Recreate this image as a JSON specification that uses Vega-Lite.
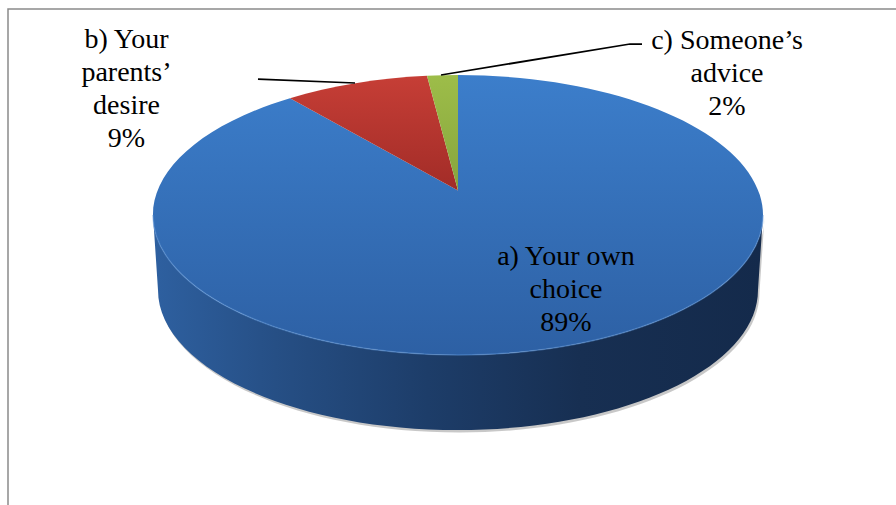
{
  "$schema": "https://vega.github.io/schema/vega-lite/v6.json",
  "width": 896,
  "height": 505,
  "autosize": "none",
  "padding": 0,
  "background": "white",
  "config": {"view": {"stroke": null}, "text": {"font": "Liberation Serif, Times New Roman, DejaVu Serif, serif"}},
  "data": {
    "values": [
      {"key": "a", "category": "a) Your own choice", "value": 89, "label": "a) Your own\nchoice\n89%"},
      {"key": "b", "category": "b) Your parents’ desire", "value": 9, "label": "b) Your\nparents’\ndesire\n9%"},
      {"key": "c", "category": "c) Someone’s advice", "value": 2, "label": "c) Someone’s\nadvice\n2%"}
    ]
  },
  "layer": [
    {
      "transform": [{"filter": "datum.key === 'a'"}],
      "mark": {"type": "point", "shape": "M -4.4 2.6 L -4.4 -2.435 L 4.6 -2.435", "size": 40000, "filled": false, "stroke": "#8a8a8a", "strokeWidth": 1.5, "opacity": 1},
      "encoding": {}
    },
    {
      "transform": [{"filter": "datum.key === 'a'"}],
      "mark": {"type": "point", "shape": "M -2.95 -0.375 L -2.9 0.375 A 3 1.4 0 0 0 3.1 0.375 L 3.15 -0.375 A 3.05 1.4 0 0 1 -2.95 -0.375 Z", "size": 40000, "filled": true, "fill": "#9a9a9a", "strokeWidth": 0, "opacity": 0.55, "xOffset": 1.5, "yOffset": 2.5},
      "encoding": {}
    },
    {
      "transform": [{"filter": "datum.key === 'a'"}],
      "mark": {"type": "point", "shape": "M -2.95 -0.375 L -2.9 0.375 A 3 1.4 0 0 0 3.1 0.375 L 3.15 -0.375 A 3.05 1.4 0 0 1 -2.95 -0.375 Z", "size": 40000, "filled": true, "strokeWidth": 0, "opacity": 1,
        "fill": {"gradient": "linear", "x1": 0, "y1": 0, "x2": 1, "y2": 0, "stops": [
          {"offset": 0, "color": "#2e60a0"},
          {"offset": 0.2, "color": "#264f85"},
          {"offset": 0.45, "color": "#1d3d69"},
          {"offset": 0.7, "color": "#172f52"},
          {"offset": 1, "color": "#142a4b"}
        ]}},
      "encoding": {}
    },
    {
      "transform": [{"filter": "datum.key === 'a'"}],
      "mark": {"type": "point", "size": 40000, "filled": true, "strokeWidth": 0, "opacity": 1,
        "fill": {"gradient": "linear", "x1": 0, "y1": 0, "x2": 0, "y2": 1, "stops": [
          {"offset": 0, "color": "#3c7ecb"},
          {"offset": 1, "color": "#2d60a4"}
        ]}},
      "encoding": {
        "shape": {"field": "key", "type": "nominal", "legend": null, "scale": {"domain": ["a", "b", "c"], "range": [
          "M 0.1 -0.62 L 0.1 -1.775 A 3.05 1.4 0 1 1 -1.58 -1.5435 Z",
          "M 0.1 -0.62 L -1.58 -1.5435 A 3.05 1.4 0 0 1 -0.21 -1.7678 Z",
          "M 0.1 -0.62 L -0.21 -1.7678 A 3.05 1.4 0 0 1 0.1 -1.775 Z"
        ]}}
      }
    },
    {
      "transform": [{"filter": "datum.key === 'b'"}],
      "mark": {"type": "point", "size": 40000, "filled": true, "strokeWidth": 0, "opacity": 1,
        "fill": {"gradient": "linear", "x1": 0, "y1": 0, "x2": 0, "y2": 1, "stops": [
          {"offset": 0, "color": "#c63e36"},
          {"offset": 1, "color": "#a22c27"}
        ]}},
      "encoding": {
        "shape": {"field": "key", "type": "nominal", "legend": null}
      }
    },
    {
      "transform": [{"filter": "datum.key === 'c'"}],
      "mark": {"type": "point", "size": 40000, "filled": true, "strokeWidth": 0, "opacity": 1,
        "fill": {"gradient": "linear", "x1": 0, "y1": 0, "x2": 0, "y2": 1, "stops": [
          {"offset": 0, "color": "#9dbd49"},
          {"offset": 1, "color": "#87a53d"}
        ]}},
      "encoding": {
        "shape": {"field": "key", "type": "nominal", "legend": null}
      }
    },
    {
      "transform": [{"filter": "datum.key === 'a'"}],
      "mark": {"type": "point", "shape": "M -2.95 -0.375 A 3.05 1.4 0 0 0 3.15 -0.375", "size": 40000, "filled": false, "stroke": "#5a92d6", "strokeWidth": 1.5, "opacity": 0.5},
      "encoding": {}
    },
    {
      "transform": [{"filter": "datum.key === 'b'"}],
      "mark": {"type": "point", "shape": "M -1.9 -1.733 L -0.93 -1.695", "size": 40000, "filled": false, "stroke": "#000000", "strokeWidth": 1.75, "opacity": 1},
      "encoding": {}
    },
    {
      "transform": [{"filter": "datum.key === 'c'"}],
      "mark": {"type": "point", "shape": "M -0.07 -1.775 L 1.82 -2.085 L 1.94 -2.085", "size": 40000, "filled": false, "stroke": "#000000", "strokeWidth": 1.75, "opacity": 1},
      "encoding": {}
    },
    {
      "transform": [{"filter": "datum.key === 'a'"}],
      "mark": {"type": "text", "font": "Liberation Serif, Times New Roman, DejaVu Serif, serif", "fontSize": 28, "lineBreak": "\n", "lineHeight": 33, "align": "center", "baseline": "alphabetic", "color": "#000000", "dx": 118, "dy": 12},
      "encoding": {"text": {"field": "label"}}
    },
    {
      "transform": [{"filter": "datum.key === 'b'"}],
      "mark": {"type": "text", "font": "Liberation Serif, Times New Roman, DejaVu Serif, serif", "fontSize": 28, "lineBreak": "\n", "lineHeight": 33, "align": "center", "baseline": "alphabetic", "color": "#000000", "dx": -321.5, "dy": -205},
      "encoding": {"text": {"field": "label"}}
    },
    {
      "transform": [{"filter": "datum.key === 'c'"}],
      "mark": {"type": "text", "font": "Liberation Serif, Times New Roman, DejaVu Serif, serif", "fontSize": 28, "lineBreak": "\n", "lineHeight": 33, "align": "center", "baseline": "alphabetic", "color": "#000000", "dx": 279, "dy": -204},
      "encoding": {"text": {"field": "label"}}
    }
  ]
}
